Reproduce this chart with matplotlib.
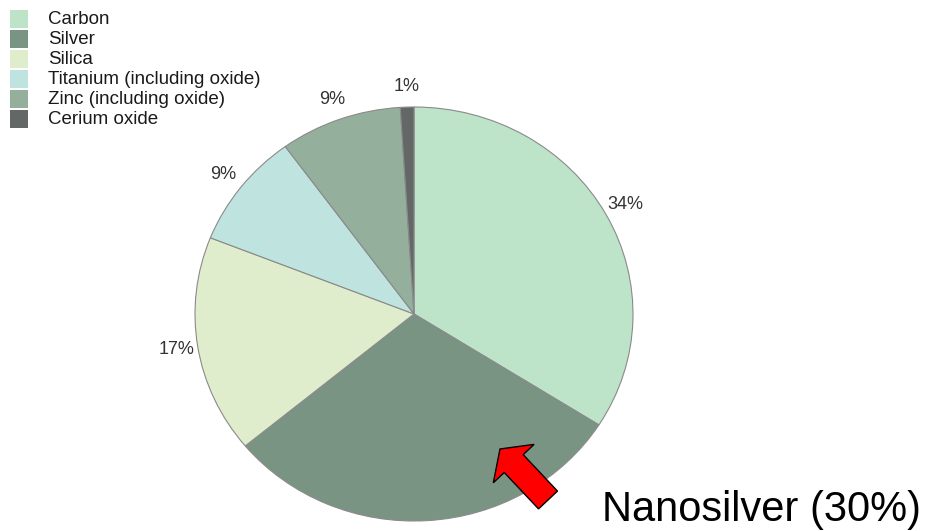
import matplotlib.pyplot as plt
from matplotlib.patches import FancyArrow, Rectangle

plt.rcParams['font.family'] = ['Liberation Sans', 'DejaVu Sans']

categories = ['Carbon', 'Silver', 'Silica', 'Titanium (including oxide)',
              'Zinc (including oxide)', 'Cerium oxide']
shares = [34, 30, 17, 9, 9, 1]
labels = ['34%', '', '17%', '9%', '9%', '1%']
colors = ['#bde3c9', '#7a9483', '#e0edcc', '#bfe4e0', '#94b09c', '#636766']
callout = 'Nanosilver (30%)'

W, H = 933, 531
fig = plt.figure(figsize=(W / 100, H / 100), dpi=100)

# pie axes, slightly stretched horizontally like the source image
cx, cy, rx, ry = 414, 314, 219, 207
ax = fig.add_axes([0, 0, 1, 1])
wedges, texts = ax.pie(shares, labels=labels, colors=colors, startangle=90,
                       counterclock=False, labeldistance=1.1,
                       wedgeprops=dict(edgecolor='#8a8a8a', linewidth=0.8),
                       textprops=dict(fontsize=13, color='#333333'))
for t in texts:
    t.set_ha('center')
    t.set_va('center')
ax.set_aspect('auto')
ax.set_xlim(-cx / rx, (W - cx) / rx)
ax.set_ylim(-(H - cy) / ry, cy / ry)
ax.axis('off')

# overlay in pixel coordinates for legend, arrow and callout
ov = fig.add_axes([0, 0, 1, 1])
ov.set_xlim(0, W)
ov.set_ylim(H, 0)
ov.axis('off')
ov.patch.set_alpha(0)

for i, (name, col) in enumerate(zip(categories, colors)):
    y = 19 + 20 * i
    ov.add_patch(Rectangle((10, y - 9), 18, 18, facecolor=col, edgecolor='none'))
    ov.text(48, y, name, fontsize=13.5, va='center', ha='left', color='#1a1a1a')

ov.add_patch(FancyArrow(548, 500, -48, -51, width=26, head_width=56,
                        head_length=20, length_includes_head=True,
                        facecolor='#ff0000', edgecolor='black', linewidth=1))
ov.text(602, 521, callout, fontsize=30, ha='left', va='baseline', color='black')

fig.savefig('out.png', dpi=100)
